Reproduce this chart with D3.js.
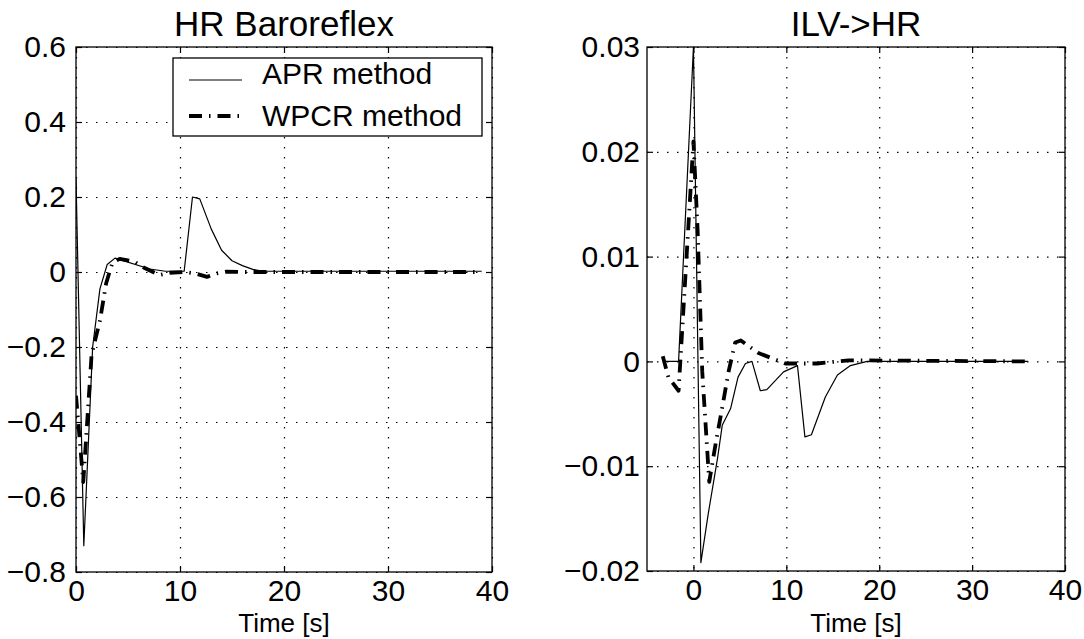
<!DOCTYPE html>
<html><head><meta charset="utf-8">
<script src="https://cdn.jsdelivr.net/npm/d3@7"></script>
<style>
html,body{margin:0;padding:0;background:#fff;}
svg{display:block;font-family:"Liberation Sans",Arial,Helvetica,sans-serif;}
</style></head>
<body><svg id="chart" width="1084" height="639"></svg>
<script>
// ---- data ----
const leftTitle = "HR Baroreflex";
const rightTitle = "ILV->HR";
const xLabel = "Time [s]";
const legendLabels = ["APR method", "WPCR method"];

const leftXTicks = [0, 10, 20, 30, 40];
const leftYTicks = [-0.8, -0.6, -0.4, -0.2, 0, 0.2, 0.4, 0.6];
const rightXTicks = [0, 10, 20, 30, 40];
const rightYTicks = [-0.02, -0.01, 0, 0.01, 0.02, 0.03];

const leftAprT = [0, 0.75, 1.6, 2.3, 3.0, 3.75, 7.1, 8.6, 10.4, 11.2, 11.9, 13, 14, 15, 16, 17, 18, 39];
const leftAprV = [0.25, -0.73, -0.2, -0.045, 0.02, 0.037, 0.008, 0.002, 0.002, 0.2, 0.195, 0.115, 0.058, 0.03, 0.017, 0.007, 0.002, 0.002];
const leftWpcrT = [0, 0.7, 1.5, 2.3, 2.9, 3.5, 4.2, 5.6, 6.5, 8.0, 9.0, 10.5, 11.5, 12.6, 13.5, 14.5, 16, 39];
const leftWpcrV = [-0.33, -0.56, -0.22, -0.13, -0.03, 0.025, 0.035, 0.028, 0.012, -0.008, -0.002, 0, -0.004, -0.013, -0.004, 0.001, 0, 0];

const rightAprT = [-3.3, -1.6, 0, 0.8, 1.6, 2.6, 3.1, 4.0, 4.8, 5.6, 6.3, 7.2, 7.9, 9.7, 11.2, 12.0, 12.7, 14.2, 15.5, 16.9, 18.7, 36];
const rightAprV = [0, 0, 0.03, -0.0192, -0.0145, -0.0092, -0.0061, -0.0045, -0.0015, -0.0002, 0, -0.0028, -0.0027, -0.001, -0.0004, -0.0072, -0.007, -0.0034, -0.0013, -0.0004, 0, 0];
const rightWpcrT = [-3.3, -2.7, -1.6, 0, 0.45, 0.95, 1.7, 2.4, 3.1, 3.8, 4.5, 5.1, 7.0, 9.9, 13.3, 16.7, 36];
const rightWpcrV = [0.0005, -0.0015, -0.0028, 0.021, 0.0125, -0.001, -0.0115, -0.0078, -0.0044, -0.0009, 0.0018, 0.002, 0.0008, -0.0002, -0.0002, 0.0001, 0];

// ---- drawing ----
const svg = d3.select("#chart");
const FONT = 30;
const TITLE_FONT = 35;
const dashDot = "13,7,1.5,7";

function fmt(v){
  let s = (Math.abs(v) < 1e-12) ? "0" : String(+v.toFixed(4));
  return s.replace("-", "\u2212");
}

function panel(opt){
  const {left, right, top, bottom, xDomain, yDomain, xTicks, yTicks, title, series, pad, id} = opt;
  const x = d3.scaleLinear().domain(xDomain).range([left, right]);
  const y = d3.scaleLinear().domain(yDomain).range([bottom, top]);
  const g = svg.append("g");
  const w = right - left, h = bottom - top;

  // grid
  const gx = g.append("g").attr("transform", `translate(0,${top})`)
    .call(d3.axisBottom(x).tickValues(xTicks).tickSize(h).tickFormat(""));
  const gy = g.append("g").attr("transform", `translate(${left},0)`)
    .call(d3.axisRight(y).tickValues(yTicks).tickSize(w).tickFormat(""));
  [gx, gy].forEach(a => {
    a.select(".domain").remove();
    a.selectAll("line").attr("stroke", "#000").attr("stroke-width", 1.2)
      .attr("stroke-dasharray", "1.5,8.5");
  });

  // clip
  g.append("clipPath").attr("id", "clip" + id).append("rect")
    .attr("x", left).attr("y", top - 1).attr("width", w).attr("height", h + 2);

  // series
  series.forEach(s => {
    const pts = s.t.map((t, i) => [t, s.v[i]]);
    g.append("path").datum(pts)
      .attr("clip-path", `url(#clip${id})`)
      .attr("fill", "none").attr("stroke", "#000")
      .attr("stroke-width", s.width)
      .attr("stroke-dasharray", s.dash || null)
      .attr("stroke-linejoin", "round")
      .attr("d", d3.line().x(d => x(d[0])).y(d => y(d[1])));
  });

  // axes with inward ticks
  const ax = [
    g.append("g").attr("transform", `translate(0,${bottom})`)
      .call(d3.axisBottom(x).tickValues(xTicks).tickSize(-6).tickPadding(8).tickFormat(fmt)),
    g.append("g").attr("transform", `translate(0,${top})`)
      .call(d3.axisTop(x).tickValues(xTicks).tickSize(-6).tickFormat("")),
    g.append("g").attr("transform", `translate(${left},0)`)
      .call(d3.axisLeft(y).tickValues(yTicks).tickSize(-6).tickPadding(pad).tickFormat(fmt)),
    g.append("g").attr("transform", `translate(${right},0)`)
      .call(d3.axisRight(y).tickValues(yTicks).tickSize(-6).tickFormat(""))
  ];
  ax.forEach(a => {
    a.select(".domain").remove();
    a.selectAll("line").attr("stroke", "#000").attr("stroke-width", 1.2);
    a.selectAll("text").attr("fill", "#000").style("font-size", FONT + "px")
      .attr("font-family", null);
  });
  g.append("rect").attr("x", left).attr("y", top).attr("width", w).attr("height", h)
    .attr("fill", "none").attr("stroke", "#000").attr("stroke-width", 1.3);

  // title & xlabel
  g.append("text").attr("x", (left + right) / 2).attr("y", 36)
    .attr("text-anchor", "middle").style("font-size", TITLE_FONT + "px").text(title);
  g.append("text").attr("x", (left + right) / 2).attr("y", 632)
    .attr("text-anchor", "middle").style("font-size", "26px").text(xLabel);
  return {x, y, g};
}

const L = panel({id: "L", left: 76, right: 492, top: 47, bottom: 572,
  xDomain: [0, 40], yDomain: [-0.8, 0.6], xTicks: leftXTicks, yTicks: leftYTicks,
  title: leftTitle, pad: 10,
  series: [
    {t: leftAprT, v: leftAprV, width: 1.2},
    {t: leftWpcrT, v: leftWpcrV, width: 3.8, dash: dashDot}
  ]});

const R = panel({id: "R", left: 647, right: 1065, top: 47, bottom: 571,
  xDomain: [-5, 40], yDomain: [-0.02, 0.03], xTicks: rightXTicks, yTicks: rightYTicks,
  title: rightTitle, pad: 7,
  series: [
    {t: rightAprT, v: rightAprV, width: 1.2},
    {t: rightWpcrT, v: rightWpcrV, width: 3.8, dash: dashDot}
  ]});

// legend
const lg = svg.append("g");
lg.append("rect").attr("x", 173).attr("y", 58).attr("width", 309).attr("height", 78)
  .attr("fill", "#fff").attr("stroke", "#000").attr("stroke-width", 1.3);
const legRows = [{y: 80, base: 84, w: 1.2, dash: null}, {y: 116, base: 126, w: 3.8, dash: dashDot}];
legRows.forEach((r, i) => {
  lg.append("line").attr("x1", 189).attr("x2", 242).attr("y1", r.y).attr("y2", r.y)
    .attr("stroke", "#000").attr("stroke-width", r.w).attr("stroke-dasharray", r.dash);
  lg.append("text").attr("x", 262).attr("y", r.base)
    .style("font-size", FONT + "px").text(legendLabels[i]);
});
</script></body></html>
